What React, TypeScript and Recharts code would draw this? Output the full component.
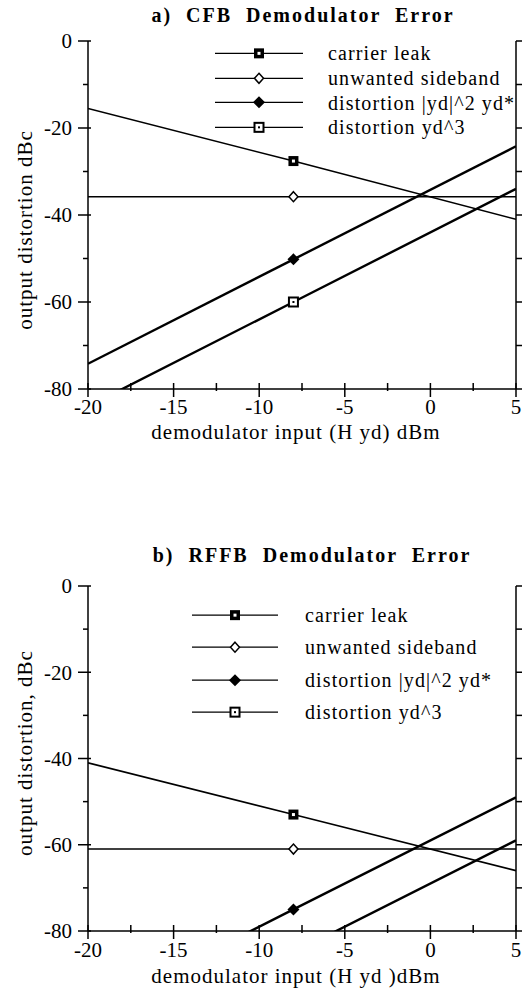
import React from 'react';
import { Legend, Line, LineChart, XAxis, YAxis } from 'recharts';

// demodulator input (H yd), dBm — lines are straight, so three points each
const inputDbm = [-20, -8, 5];
const markerAt = -8;
const xTicks = [-20, -17.5, -15, -12.5, -10, -7.5, -5, -2.5, 0, 2.5, 5];
const yTicks = [-80, -70, -60, -50, -40, -30, -20, -10, 0];

const seriesNames = ['carrier leak', 'unwanted sideband', 'distortion |yd|^2 yd*', 'distortion yd^3'];
const seriesKeys = ['leak', 'side', 'conj', 'cube'];
const seriesWidths = [1.6, 1.4, 2.4, 2.4];

// a) CFB
const cfbLeak = [-15.5, -27.6, -41];
const cfbSide = [-35.8, -35.8, -35.8];
const cfbConj = [-74.2, -50.2, -24.2];
const cfbCube = [-84, -60, -34];

// b) RFFB
const rffbLeak = [-41, -53, -66];
const rffbSide = [-61, -61, -61];
const rffbConj = [-99, -75, -49];
const rffbCube = [-109, -85, -59];

const SERIF = "'Liberation Serif', 'Times New Roman', serif";
const PLOT_L = 88;
const PLOT_R = 516;

function Marker({ kind, cx, cy }: { kind: string; cx: number; cy: number }) {
  if (kind === 'leak')
    return (
      <g>
        <rect x={cx - 5} y={cy - 5} width={10} height={10} fill="#000" />
        <rect x={cx - 1.5} y={cy - 1.5} width={3} height={3} fill="#fff" />
      </g>
    );
  if (kind === 'side')
    return <polygon points={`${cx},${cy - 5} ${cx + 4.5},${cy} ${cx},${cy + 5} ${cx - 4.5},${cy}`} fill="#fff" stroke="#000" strokeWidth={1.5} />;
  if (kind === 'conj')
    return <polygon points={`${cx},${cy - 6} ${cx + 6},${cy} ${cx},${cy + 6} ${cx - 6},${cy}`} fill="#000" />;
  return (
    <g>
      <rect x={cx - 4.5} y={cy - 4.5} width={9} height={9} fill="#fff" stroke="#000" strokeWidth={2} />
      <rect x={cx - 1} y={cy - 1} width={2} height={2} fill="#000" />
    </g>
  );
}

const makeXTick = (gap: number) => (p: any) => {
  const v = p.payload.value;
  const major = v % 5 === 0;
  return (
    <g>
      <line x1={p.x} x2={p.x} y1={p.y - 6} y2={p.y + (major ? 8 : 2)} stroke="#000" strokeWidth={1.5} />
      {major && (
        <text x={p.x} y={p.y + gap} dy="0.35em" textAnchor="middle" fontFamily={SERIF} fontSize={21} fill="#000">
          {v}
        </text>
      )}
    </g>
  );
};

function LeftTick(p: any) {
  const v = p.payload.value;
  const major = v % 20 === 0;
  return (
    <g>
      <line x1={p.x - (major ? 10 : 5)} x2={p.x + (major ? 3 : 0)} y1={p.y} y2={p.y} stroke="#000" strokeWidth={1.5} />
      {major && (
        <text x={p.x - 16} y={p.y} dy="0.35em" textAnchor="end" fontFamily={SERIF} fontSize={21} fill="#000">
          {v}
        </text>
      )}
    </g>
  );
}

function RightTick(p: any) {
  return <line x1={p.x} x2={p.x + 6} y1={p.y} y2={p.y} stroke="#000" strokeWidth={1.5} />;
}

function LegendBox({ rowH, lineW, textGap }: { rowH: number; lineW: number; textGap: number }) {
  return (
    <div style={{ fontFamily: SERIF, fontSize: 20, letterSpacing: 1.1, color: '#000' }}>
      {seriesKeys.map((k, i) => (
        <div key={k} style={{ display: 'flex', alignItems: 'center', height: rowH }}>
          <svg width={lineW} height={rowH} style={{ display: 'block' }}>
            <line x1={0} x2={lineW} y1={rowH / 2} y2={rowH / 2} stroke="#000" strokeWidth={1.3} />
            <Marker kind={k} cx={lineW / 2} cy={rowH / 2} />
          </svg>
          <span style={{ marginLeft: textGap, lineHeight: 1, whiteSpace: 'nowrap' }}>{seriesNames[i]}</span>
        </div>
      ))}
    </div>
  );
}

interface PanelProps {
  top: number;
  height: number;
  plotTop: number;
  plotH: number;
  title: string;
  titleX: number;
  titleY: number;
  yLabel: string;
  yLabelY: number;
  xLabel: string;
  tickGap: number;
  xLabelGap: number;
  series: number[][];
  legend: { top: number; left: number; rowH: number; lineW: number; textGap: number };
}

function Panel(props: PanelProps) {
  const { top, height, plotTop, plotH, series, legend } = props;
  const data = inputDbm.map((x, i) => ({
    x,
    leak: series[0][i],
    side: series[1][i],
    conj: series[2][i],
    cube: series[3][i],
  }));
  const xAxisH = height - plotTop - plotH;
  const plotBottom = plotTop + plotH;
  const axisLine = { stroke: '#000', strokeWidth: 1.5 };

  return (
    <div style={{ position: 'absolute', left: 0, top, width: 526, height }}>
      <div
        style={{
          position: 'absolute',
          left: props.titleX - 263,
          top: props.titleY - 12,
          width: 526,
          height: 24,
          lineHeight: '24px',
          textAlign: 'center',
          fontFamily: SERIF,
          fontSize: 20,
          fontWeight: 'bold',
          letterSpacing: 2,
          wordSpacing: 7,
          whiteSpace: 'nowrap',
          color: '#000',
        }}
      >
        {props.title}
      </div>
      <LineChart width={526} height={height} data={data} margin={{ top: plotTop, right: 0, bottom: 0, left: 0 }}>
        <XAxis
          xAxisId="b"
          type="number"
          dataKey="x"
          domain={[-20, 5]}
          ticks={xTicks}
          interval={0}
          allowDataOverflow
          height={xAxisH}
          tickSize={0}
          tickMargin={0}
          tickLine={false}
          axisLine={axisLine}
          tick={makeXTick(props.tickGap)}
          label={() => (
            <text
              x={(PLOT_L + PLOT_R) / 2 - 6}
              y={plotBottom + props.xLabelGap}
              dy="0.35em"
              textAnchor="middle"
              fontFamily={SERIF}
              fontSize={21}
              letterSpacing={1}
              fill="#000"
            >
              {props.xLabel}
            </text>
          )}
        />
        <XAxis
          xAxisId="t"
          orientation="top"
          type="number"
          dataKey="x"
          domain={[-20, 5]}
          allowDataOverflow
          height={0}
          tick={false}
          tickLine={false}
          axisLine={axisLine}
        />
        <YAxis
          yAxisId="l"
          type="number"
          domain={[-80, 0]}
          ticks={yTicks}
          interval={0}
          allowDataOverflow
          width={PLOT_L}
          tickSize={0}
          tickMargin={0}
          tickLine={false}
          axisLine={axisLine}
          tick={LeftTick}
          label={() => (
            <text
              x={25}
              y={props.yLabelY}
              dy="0.35em"
              textAnchor="middle"
              transform={`rotate(-90 25 ${props.yLabelY})`}
              fontFamily={SERIF}
              fontSize={21}
              letterSpacing={1}
              fill="#000"
            >
              {props.yLabel}
            </text>
          )}
        />
        <YAxis
          yAxisId="r"
          orientation="right"
          type="number"
          domain={[-80, 0]}
          ticks={yTicks}
          interval={0}
          allowDataOverflow
          width={526 - PLOT_R}
          tickSize={0}
          tickMargin={0}
          tickLine={false}
          axisLine={axisLine}
          tick={RightTick}
        />
        <Legend
          layout="vertical"
          align="center"
          verticalAlign="middle"
          wrapperStyle={{ top: legend.top, left: legend.left, width: 330, height: 'auto' }}
          content={() => <LegendBox rowH={legend.rowH} lineW={legend.lineW} textGap={legend.textGap} />}
        />
        {seriesKeys.map((k, i) => (
          <Line
            key={k}
            xAxisId="b"
            yAxisId="l"
            type="linear"
            dataKey={k}
            name={seriesNames[i]}
            stroke="#000"
            strokeWidth={seriesWidths[i]}
            isAnimationActive={false}
            activeDot={false}
            dot={(p: any) =>
              p.payload.x !== markerAt || p.payload[k] < -80 ? (
                <g key={`${k}-${p.index}`} />
              ) : (
                <Marker key={`${k}-${p.index}`} kind={k} cx={p.cx} cy={p.cy} />
              )
            }
          />
        ))}
      </LineChart>
    </div>
  );
}

export default function App() {
  return (
    <div style={{ position: 'absolute', left: 0, top: 0, width: 526, height: 1003, background: '#fff' }}>
      <Panel
        top={0}
        height={460}
        plotTop={41}
        plotH={348}
        title="a) CFB Demodulator Error"
        titleX={303}
        titleY={15}
        yLabel="output distortion dBc"
        yLabelY={230}
        xLabel="demodulator input (H yd) dBm"
        tickGap={18}
        xLabelGap={43}
        series={[cfbLeak, cfbSide, cfbConj, cfbCube]}
        legend={{ top: 41, left: 215, rowH: 24.7, lineW: 88, textGap: 25 }}
      />
      <Panel
        top={545}
        height={458}
        plotTop={41}
        plotH={345}
        title="b) RFFB Demodulator Error"
        titleX={312}
        titleY={10}
        yLabel="output distortion, dBc"
        yLabelY={753 - 545}
        xLabel="demodulator input (H yd )dBm"
        tickGap={19}
        xLabelGap={45}
        series={[rffbLeak, rffbSide, rffbConj, rffbCube]}
        legend={{ top: 54, left: 192, rowH: 32.3, lineW: 86, textGap: 27 }}
      />
    </div>
  );
}
